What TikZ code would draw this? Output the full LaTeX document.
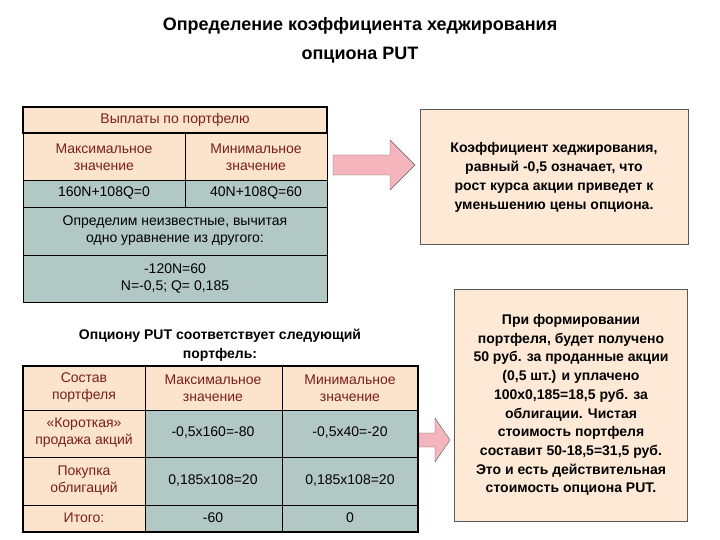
\documentclass[tikz,border=0pt]{standalone}
\usepackage{fontspec}
\setmainfont{Liberation Sans}
\definecolor{peach}{HTML}{FCE4CC}
\definecolor{tealg}{HTML}{B2C8C4}
\definecolor{dred}{HTML}{7A1E1E}
\definecolor{boxbg}{HTML}{FDE9D6}
\definecolor{arrowfill}{HTML}{F4B6BC}
\begin{document}
\begin{tikzpicture}[x=1pt,y=-1pt,
  hd/.style={draw=black,fill=peach},
  bd/.style={draw=black,fill=tealg},
  tx/.style={align=center,font=\fontsize{14}{17}\selectfont},
  htx/.style={tx,text=dred},
  arr/.style={draw=gray!70!black,fill=arrowfill}]
\useasboundingbox (0,0) rectangle (720,540);
\node[font=\bfseries\fontsize{18}{29}\selectfont,align=center] (title) at (360,40) {Определение коэффициента хеджирования\\опциона PUT};
% table 1
\draw[hd,line width=1.2pt] (23,107) rectangle (327,133);
\draw[hd] (23,133) rectangle (185,180); \draw[hd] (185,133) rectangle (327,180);
\draw[bd] (23,180) rectangle (185,207); \draw[bd] (185,180) rectangle (327,207);
\draw[bd] (23,207) rectangle (327,255);
\draw[bd] (23,255) rectangle (327,302);
\node[htx] (t1h) at (175,120) {Выплаты по портфелю};
\node[htx] (t1a) at (104,157) {Максимальное\\значение};
\node[htx] (t1b) at (256,157) {Минимальное\\значение};
\node[tx] (t1c) at (104,193) {160N+108Q=0};
\node[tx] (t1d) at (256,193) {40N+108Q=60};
\node[tx] (t1e) at (175,231) {Определим неизвестные, вычитая\\одно уравнение из другого:};
\node[tx] (t1f) at (175,278) {-120N=60\\N=-0,5; Q= 0,185};
\draw[arr] (333,155) -- (390,155) -- (390,140) -- (415,165) -- (390,190) -- (390,175) -- (333,175) -- cycle;
\node[draw=gray!70!black,fill=boxbg,minimum width=268pt,minimum height=135pt,tx,font=\bfseries\fontsize{14}{19}\selectfont] (r1) at (554,177) {Коэффициент хеджирования,\\равный -0,5 означает, что\\рост курса акции приведет к\\уменьшению цены опциона.};
% table 2
\node[tx,font=\bfseries\fontsize{14}{19}\selectfont] (t2t) at (220,345) {Опциону PUT соответствует следующий\\портфель:};
\draw[hd] (23,366) rectangle (145,410); \draw[hd] (145,366) rectangle (282,410); \draw[hd] (282,366) rectangle (418,410);
\draw[hd] (23,410) rectangle (145,457); \draw[bd] (145,410) rectangle (282,457); \draw[bd] (282,410) rectangle (418,457);
\draw[hd] (23,457) rectangle (145,505); \draw[bd] (145,457) rectangle (282,505); \draw[bd] (282,457) rectangle (418,505);
\draw[hd] (23,505) rectangle (145,532); \draw[bd] (145,505) rectangle (282,532); \draw[bd] (282,505) rectangle (418,532);
\draw[line width=1.2pt] (23,366) rectangle (418,532);
\node[htx] (c11) at (84,388) {Состав\\портфеля};
\node[htx] (c12) at (213,388) {Максимальное\\значение};
\node[htx] (c13) at (350,388) {Минимальное\\значение};
\node[htx] (c21) at (84,433) {«Короткая»\\продажа акций};
\node[tx] (c22) at (213,433) {-0,5x160=-80};
\node[tx] (c23) at (350,433) {-0,5x40=-20};
\node[htx] (c31) at (84,481) {Покупка\\облигаций};
\node[tx] (c32) at (213,481) {0,185x108=20};
\node[tx] (c33) at (350,481) {0,185x108=20};
\node[htx] (c41) at (84,518) {Итого:};
\node[tx] (c42) at (213,518) {-60};
\node[tx] (c43) at (350,518) {0};
\draw[arr] (419,433) -- (435,433) -- (435,418) -- (450,440) -- (435,462) -- (435,447) -- (419,447) -- cycle;
\node[draw=gray!70!black,fill=boxbg,minimum width=233pt,minimum height=232pt,tx,font=\bfseries\fontsize{14}{18.7}\selectfont] (r2) at (571,405) {При формировании\\портфеля, будет получено\\50 руб. за проданные акции\\(0,5 шт.) и уплачено\\100x0,185=18,5 руб. за\\облигации. Чистая\\стоимость портфеля\\составит 50-18,5=31,5 руб.\\Это и есть действительная\\стоимость опциона PUT.};
\end{tikzpicture}
\end{document}
